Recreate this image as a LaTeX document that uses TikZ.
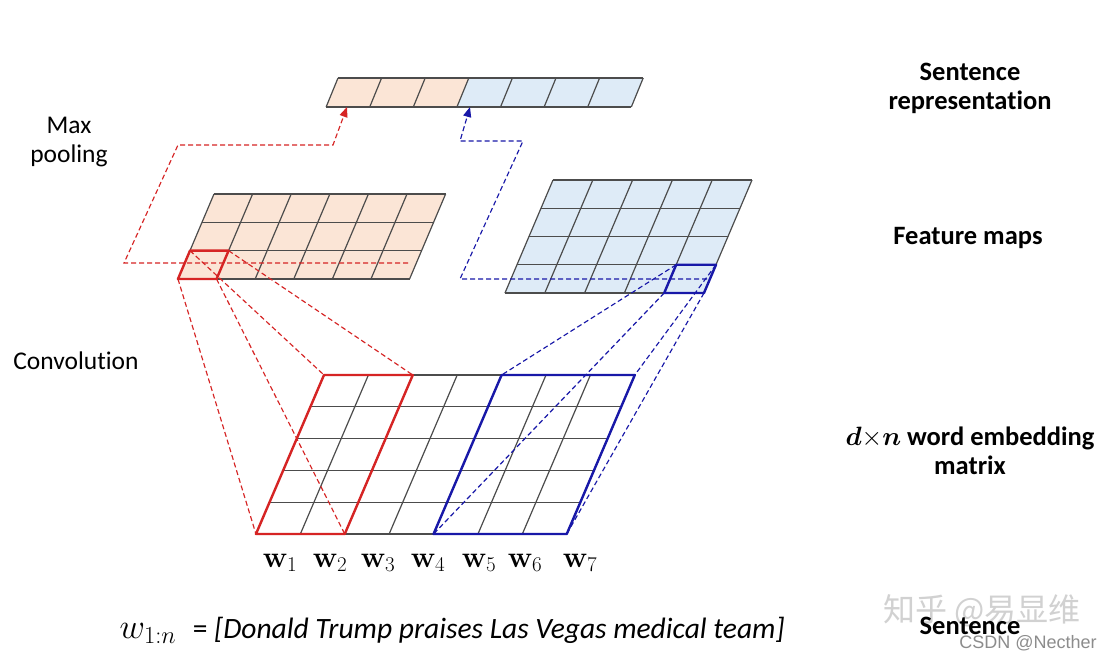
\RequirePackage{fix-cm}
\documentclass[tikz,border=0pt]{standalone}
\usepackage{amsmath}
\usepackage[no-math]{fontspec}
\setmainfont{Carlito}[RawFeature={-liga}]
\newfontfamily\cjkfont{Noto Sans CJK SC}
\newfontfamily\markfont{Liberation Sans}
\usepackage{tikz}
\usetikzlibrary{arrows.meta}

\definecolor{mapred}{RGB}{251,229,214}
\definecolor{mapblue}{RGB}{222,235,247}
\definecolor{hotred}{RGB}{214,36,36}
\definecolor{hotblue}{RGB}{24,24,168}

% cols, rows, cell width, cell height (in a slanted scope)
\newcommand{\slantgrid}[4]{%
  \foreach \ci in {0,...,#1} \draw[gridline] (\ci*#3,0) -- (\ci*#3,#2*#4);
  \foreach \ri in {0,...,#2} \draw[gridline] (0,\ri*#4) -- (#1*#3,\ri*#4);
}

\begin{document}
\begin{tikzpicture}[x=1pt, y=-1pt,
  gridline/.style={draw=black!70, line width=1.2pt},
  hot/.style={line width=2.4pt, line join=round},
  rdash/.style={draw=hotred, line width=1.15pt, dash pattern=on 5pt off 3pt},
  bdash/.style={draw=hotblue, line width=1.15pt, dash pattern=on 5pt off 3pt},
  arr/.style={-{Triangle[length=10pt,width=8pt]}},
  side/.style={font=\fontsize{25.5}{29}\selectfont, align=center},
  layer/.style={font=\bfseries\fontsize{26.5}{29}\selectfont, align=center},
  word/.style={font=\fontsize{30}{34}\selectfont, anchor=base}
]
  \path[fill=white] (0,0) rectangle (1114,659);

  % sentence representation
  \begin{scope}[shift={(338,78)}, xslant=0.41]
    \fill[mapred] (0,0) rectangle (130.8,29);
    \fill[mapblue] (130.8,0) rectangle (305.2,29);
    \slantgrid{7}{1}{43.6}{29}
  \end{scope}

  % feature maps
  \begin{scope}[shift={(214,194)}, xslant=0.424]
    \fill[mapred] (0,0) rectangle (231.6,85);
    \slantgrid{6}{3}{38.6}{28.33}
    \coordinate (rc-tl) at (0,56.67);
    \coordinate (rc-tr) at (38.6,56.67);
    \coordinate (rc-br) at (38.6,85);
    \coordinate (rc-bl) at (0,85);
  \end{scope}
  \begin{scope}[shift={(553,180)}, xslant=0.425]
    \fill[mapblue] (0,0) rectangle (199,113);
    \slantgrid{5}{4}{39.8}{28.25}
    \coordinate (bc-tl) at (159.2,84.75);
    \coordinate (bc-tr) at (199,84.75);
    \coordinate (bc-br) at (199,113);
    \coordinate (bc-bl) at (159.2,113);
  \end{scope}

  % word embedding matrix
  \begin{scope}[shift={(324,375)}, xslant=0.428]
    \slantgrid{7}{5}{44.4}{31.8}
    \coordinate (rw-tl) at (0,0);
    \coordinate (rw-tr) at (88.8,0);
    \coordinate (rw-br) at (88.8,159);
    \coordinate (rw-bl) at (0,159);
    \coordinate (bw-tl) at (177.6,0);
    \coordinate (bw-tr) at (310.8,0);
    \coordinate (bw-br) at (310.8,159);
    \coordinate (bw-bl) at (177.6,159);
  \end{scope}

  % convolution
  \draw[rdash] (rc-tl) -- (rw-tl) (rc-tr) -- (rw-tr) (rc-bl) -- (rw-bl) (rc-br) -- (rw-br);
  \draw[bdash] (bc-tl) -- (bw-tl) (bc-tr) -- (bw-tr) (bc-bl) -- (bw-bl) (bc-br) -- (bw-br);

  % max pooling
  \coordinate (rpool) at (408,263);
  \coordinate (bpool) at (707,279);
  \coordinate (rep-r) at (347,107);
  \coordinate (rep-b) at (470,107);
  \draw[rdash, arr] (rpool) -- ++(-284,0) -- ++(54,-118) -- ++(155,0) -- (rep-r);
  \draw[bdash, arr] (bpool) -- ++(-247,0) -- ++(63,-138) -- ++(-63,0) -- (rep-b);

  \draw[hot, hotred] (rc-tl) -- (rc-tr) -- (rc-br) -- (rc-bl) -- cycle;
  \draw[hot, hotred] (rw-tl) -- (rw-tr) -- (rw-br) -- (rw-bl) -- cycle;
  \draw[hot, hotblue] (bc-tl) -- (bc-tr) -- (bc-br) -- (bc-bl) -- cycle;
  \draw[hot, hotblue] (bw-tl) -- (bw-tr) -- (bw-br) -- (bw-bl) -- cycle;

  \node[side] (pool) at (69,142) {Max\\pooling};
  \node[side] (conv) at (76,361) {Convolution};
  \node[layer] (srep) at (970,88) {Sentence\\representation};
  \node[layer] (fmap) at (968,238) {Feature maps};
  \node[layer] (emb) at (970,451) {$\boldsymbol{d}{\times}\boldsymbol{n}$ word embedding\\matrix};

  \foreach \k/\x in {1/280,2/330,3/378,4/428,5/479,6/525,7/580}
    \node[word] (w\k) at (\x,567) {$\mathbf{w}_{\k}$};

  \node[anchor=base west, font=\fontsize{29.5}{34}\selectfont] (sent) at (116,638)
    {{\fontsize{35}{38}\selectfont$w_{1:n}$}\hspace{10pt} = \textit{[Donald Trump praises Las Vegas medical team]}};

  \node[font=\cjkfont\fontsize{32}{36}\selectfont, text=black!18] (zh) at (982,611) {知乎 @易显维};
  \node[layer] (slab) at (970,626) {Sentence};
  \node[font=\markfont\fontsize{18}{20}\selectfont, text=black!45] (csdn) at (1028,643) {CSDN @Necther};
\end{tikzpicture}
\end{document}
